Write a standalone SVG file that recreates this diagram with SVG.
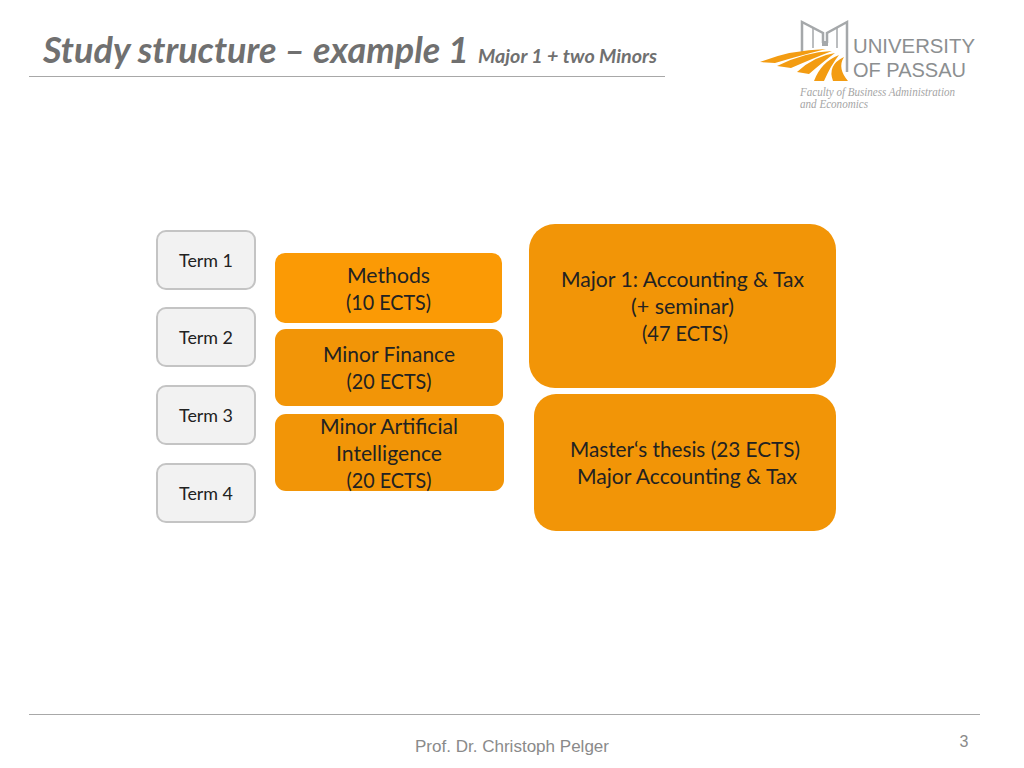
<svg xmlns="http://www.w3.org/2000/svg" width="1024" height="768" viewBox="0 0 1024 768">
<style>
.t{font-family:Lato,"Open Sans",sans-serif;fill:#222;text-anchor:middle}
.b{font-size:21px}
.s{font-size:18px}
.term{fill:#f2f2f2;stroke:#c4c4c4;stroke-width:2}
.h{font-family:Lato,"Open Sans",sans-serif;font-weight:700;font-style:italic;fill:#707070}
.rule{stroke:#a8a8a8;stroke-width:1;fill:none}
.logo{font-family:"Liberation Sans",sans-serif;fill:#8c8f91}
.fac{font-family:"Liberation Serif",serif;font-style:italic;fill:#a5a5a5;font-size:11.500px}
.or{fill:#f39c12}
.bld{fill:none;stroke:#a5a8aa}
</style>
<rect width="1024" height="768" fill="#fff"/>
<g id="header">
<text class="h" x="43" y="63" font-size="36" textLength="426" lengthAdjust="spacingAndGlyphs">Study structure – example 1</text>
<text class="h" x="478" y="63" font-size="18" textLength="179" lengthAdjust="spacingAndGlyphs">Major 1 + two Minors</text>
<line class="rule" x1="29" y1="76.500" x2="665" y2="76.500"/>
</g>
<g id="logo">
<path class="bld" stroke-width="2.500" d="M802 52V22L823 33V43M847 72V22L827 33V43"/>
<path class="bld" stroke-width="1.500" d="M813 48V28M837 48V28"/>
<path d="M822 41h6v5h-6z" fill="#a5a8aa"/>
<path class="or" d="M760 62Q790 50 826 49Q802 55 775 63Z"/>
<path class="or" d="M777 66Q805 52 832 51Q814 58 791 68Z"/>
<path class="or" d="M797 72Q814 56 835 53Q824 61 809 74Z"/>
<path class="or" d="M814 81Q821 62 839 55Q831 65 824 81Z"/>
<path class="or" d="M833 81Q827 65 844 57Q837 68 848 81Z"/>
<text class="logo" x="853" y="53" font-size="20.500" textLength="122" lengthAdjust="spacingAndGlyphs">UNIVERSITY</text>
<text class="logo" x="853" y="77" font-size="20.500" textLength="113" lengthAdjust="spacingAndGlyphs">OF PASSAU</text>
<text class="fac" x="800" y="96" textLength="155" lengthAdjust="spacingAndGlyphs">Faculty of Business Administration</text>
<text class="fac" x="800" y="108" textLength="68" lengthAdjust="spacingAndGlyphs">and Economics</text>
</g>
<g id="connectors"></g>
<g id="term1"><rect class="term" x="157" y="231" width="98" height="58" rx="9"/><text class="t s" x="206" y="266.500" textLength="54" lengthAdjust="spacingAndGlyphs">Term 1</text></g>
<g id="term2"><rect class="term" x="157" y="308" width="98" height="58" rx="9"/><text class="t s" x="206" y="343.500" textLength="54" lengthAdjust="spacingAndGlyphs">Term 2</text></g>
<g id="term3"><rect class="term" x="157" y="386" width="98" height="58" rx="9"/><text class="t s" x="206" y="421.500" textLength="54" lengthAdjust="spacingAndGlyphs">Term 3</text></g>
<g id="term4"><rect class="term" x="157" y="464" width="98" height="58" rx="9"/><text class="t s" x="206" y="499.500" textLength="54" lengthAdjust="spacingAndGlyphs">Term 4</text></g>
<g id="methods"><rect x="275" y="253" width="227" height="70" rx="10" fill="#fb9a05"/><text class="t b" x="388.500" y="283" textLength="83" lengthAdjust="spacingAndGlyphs">Methods</text><text class="t b" x="388.500" y="310" textLength="85" lengthAdjust="spacingAndGlyphs">(10 ECTS)</text></g>
<g id="minor-finance"><rect x="275" y="329" width="228" height="77" rx="11" fill="#f29507"/><text class="t b" x="389" y="362" textLength="132" lengthAdjust="spacingAndGlyphs">Minor Finance</text><text class="t b" x="389" y="389" textLength="85" lengthAdjust="spacingAndGlyphs">(20 ECTS)</text></g>
<g id="minor-ai"><rect x="275" y="414" width="229" height="77" rx="11" fill="#f29507"/><text class="t b" x="389" y="434" textLength="138" lengthAdjust="spacingAndGlyphs">Minor Artificial</text><text class="t b" x="389" y="461" textLength="106" lengthAdjust="spacingAndGlyphs">Intelligence</text><text class="t b" x="389" y="488" textLength="85" lengthAdjust="spacingAndGlyphs">(20 ECTS)</text></g>
<g id="major"><rect x="529" y="224" width="307" height="164" rx="26" fill="#f29507"/><text class="t b" x="682.500" y="287" textLength="243" lengthAdjust="spacingAndGlyphs">Major 1: Accounting &amp; Tax</text><text class="t b" x="682.500" y="314" textLength="103" lengthAdjust="spacingAndGlyphs">(+ seminar)</text><text class="t b" x="685" y="341" textLength="86" lengthAdjust="spacingAndGlyphs">(47 ECTS)</text></g>
<g id="thesis"><rect x="534" y="394" width="302" height="137" rx="22" fill="#f29507"/><text class="t b" x="685" y="457" textLength="230" lengthAdjust="spacingAndGlyphs">Master‘s thesis (23 ECTS)</text><text class="t b" x="687" y="484" textLength="220" lengthAdjust="spacingAndGlyphs">Major Accounting &amp; Tax</text></g>
<g id="footer">
<line class="rule" x1="29" y1="714.500" x2="980" y2="714.500"/>
<text x="512" y="752" font-family="Liberation Sans,sans-serif" font-size="16" fill="#8a8a8a" text-anchor="middle" textLength="194" lengthAdjust="spacingAndGlyphs">Prof. Dr. Christoph Pelger</text>
<text x="964" y="747" font-family="Liberation Sans,sans-serif" font-size="16" fill="#8a8a8a" text-anchor="middle">3</text>
</g>
</svg>
